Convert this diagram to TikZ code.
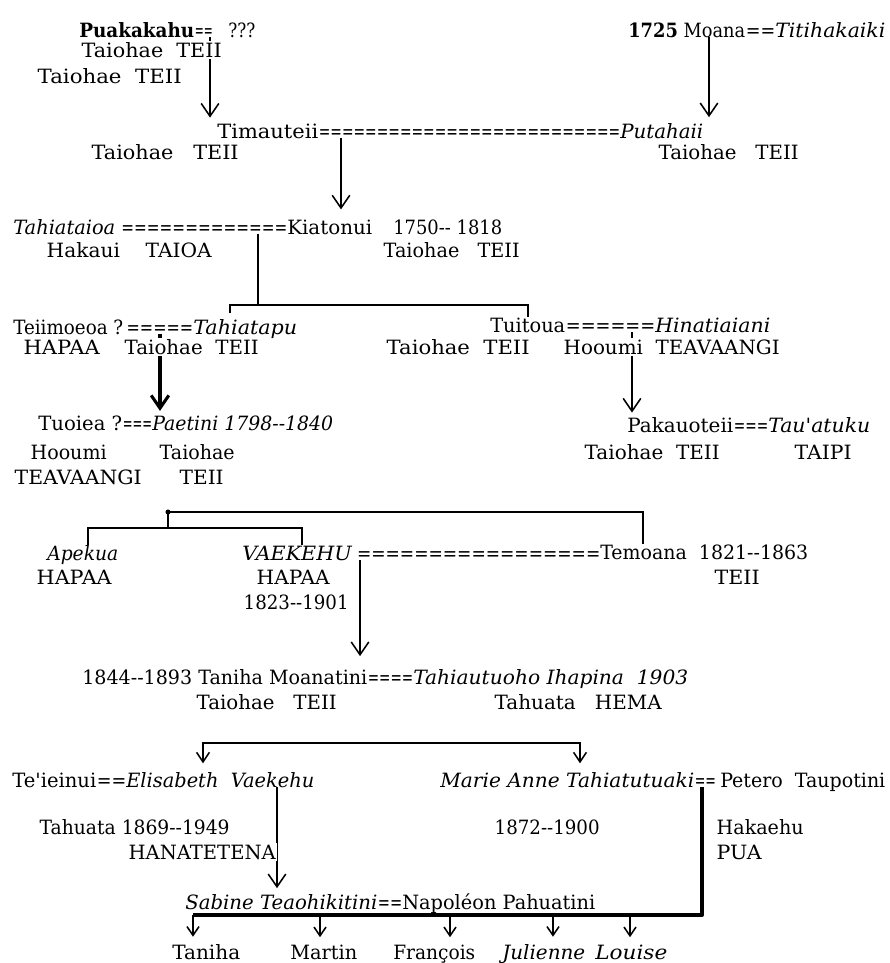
\documentclass[tikz,border=0pt]{standalone}
\usepackage{fontspec}
\setmainfont{DejaVu Serif}
\usepackage{graphicx}
\usepackage{tikz}
\usetikzlibrary{arrows.meta}
\usetikzlibrary{calc}
\usetikzlibrary{backgrounds}

\newlength\pxu
\setlength\pxu{0.025cm}
\newcommand\gfont{\fontsize{14pt}{16pt}\selectfont}
% text set to the width it has in the scan
\newcommand\fw[2]{\resizebox{#1\pxu}{\height}{#2}}
\newcommand\eqs[1]{\foreach\i in {1,...,#1}{=}}
% run of = signs between two names
\newcommand\wed[6]{\path let \p1=([xshift=#4]#1.base east), \p2=([xshift=-#5]#2.base west) in node[eqn] (#3) at (\p1) {\resizebox{\dimexpr\x2-\x1\relax}{\height}{\eqs{#6}}};}

\begin{document}
\begin{tikzpicture}[x=0.025cm, y=-0.025cm,
  nm/.style={anchor=base west, inner sep=0pt, font=\gfont},
  lab/.style={anchor=base west, inner sep=1pt, fill=white, font=\gfont},
  eqn/.style={anchor=base west, inner sep=0pt, font=\gfont},
  ln/.style={line width=1.1pt},
  arr/.style={ln, shorten >=3pt, -{Straight Barb[length=3.2mm,width=4.4mm]}},
  sarr/.style={ln, shorten >=5pt, -{Straight Barb[length=2.2mm,width=3mm]}},
  both/.style={ln, shorten <=6pt, shorten >=6pt, {Straight Barb[length=2.4mm,width=3.2mm]}-{Straight Barb[length=2.4mm,width=3.2mm]}},
  fat/.style={line width=2.8pt, line join=round}]
\useasboundingbox (0,0) rectangle (890,963);

\node[nm] (pua) at (79,37) {\fw{115}{\textbf{Puakakahu}}};
\node[nm] (qqq) at (228,37) {\fw{27}{???}};
\wed{pua}{qqq}{m0}{0pt}{11pt}{2}
\node[lab] (pua1) at (80,57) {\fw{140}{Taiohae~~TEII}};
\node[lab] (pua2) at (36,83) {\fw{144}{Taiohae~~TEII}};

\node[nm] (moana) at (628,37) {\fw{117}{\textbf{1725} Moana}};
\node[nm] (titi) at (775,37) {\fw{110}{\textit{Titihakaiki}}};
\wed{moana}{titi}{m2}{0pt}{0pt}{2}

\node[nm] (timau) at (217,138) {\fw{101}{Timauteii}};
\node[nm] (putah) at (620,138) {\fw{83}{\textit{Putahaii}}};
\wed{timau}{putah}{m1}{0pt}{0pt}{26}
\node[lab] (timau1) at (90,159) {\fw{147}{Taiohae~~~TEII}};
\node[lab] (putah1) at (657,159) {\fw{140}{Taiohae~~~TEII}};

\node[nm] (tahia) at (13,234) {\fw{102}{\textit{Tahiataioa}}};
\node[nm] (kiato) at (287,234) {\fw{85}{Kiatonui}};
\wed{tahia}{kiato}{m3}{4pt}{0pt}{13}
\node[nm] (kdate) at (393,234) {\fw{109}{1750-{}-~1818}};
\node[lab] (tahia1) at (45,257) {\fw{165}{Hakaui~~~~TAIOA}};
\node[lab] (kiato1) at (382,257) {\fw{136}{Taiohae~~~TEII}};

\node[nm] (teii) at (13,334) {\fw{110}{Teiimoeoa ?}};
\node[nm] (tapu) at (193,334) {\fw{104}{\textit{Tahiatapu}}};
\wed{teii}{tapu}{m4}{2pt}{0pt}{5}
\node[lab] (teii1) at (22,354) {\fw{76}{HAPAA}};
\node[lab] (tapu1) at (123,354) {\fw{134}{Taiohae~~TEII}};

\node[nm] (tuit) at (490,332) {\fw{75}{Tuitoua}};
\node[nm] (hina) at (655,332) {\fw{115}{\textit{Hinatiaiani}}};
\wed{tuit}{hina}{m5}{0pt}{0pt}{6}
\node[lab] (tuit1) at (385,354) {\fw{143}{Taiohae~~TEII}};
\node[lab] (hina1) at (562,354) {\fw{216}{Hooumi~~TEAVAANGI}};

\node[nm] (tuoi) at (38,430) {\fw{84}{Tuoiea ?}};
\node[nm] (paet) at (152,430) {\fw{181}{\textit{Paetini 1798-{}-1840}}};
\wed{tuoi}{paet}{m6}{0pt}{0pt}{3}
\node[lab] (tuoi1) at (29,459) {\fw{76}{Hooumi}};
\node[lab] (paet1) at (158,459) {\fw{75}{Taiohae}};
\node[lab] (tuoi2) at (13,484) {\fw{127}{TEAVAANGI}};
\node[lab] (paet2) at (178,484) {\fw{44}{TEII}};

\node[nm] (paka) at (627,432) {\fw{106}{Pakauoteii}};
\node[nm] (taua) at (768,432) {\fw{102}{\textit{Tau\textquotesingle atuku}}};
\wed{paka}{taua}{m7}{0pt}{0pt}{3}
\node[lab] (paka1) at (583,459) {\fw{135}{Taiohae~~TEII}};
\node[lab] (taua1) at (793,459) {\fw{57}{TAIPI}};

\node[nm] (apek) at (47,560) {\fw{71}{\textit{Apekua}}};
\node[lab] (apek1) at (35,584) {\fw{75}{HAPAA}};
\node[nm] (vaek) at (242,560) {\fw{110}{\textit{VAEKEHU}}};
\node[nm] (temo) at (600,559) {\fw{208}{Temoana~~1821-{}-1863}};
\wed{vaek}{temo}{m8}{3pt}{0pt}{17}
\node[lab] (vaek1) at (255,584) {\fw{73}{HAPAA}};
\node[lab] (vaek2) at (242,609) {\fw{105}{1823-{}-1901}};
\node[lab] (temo1) at (713,584) {\fw{45}{TEII}};

\node[nm] (tani) at (82,684) {\fw{285}{1844-{}-1893 Taniha Moanatini}};
\node[nm] (tahu) at (413,684) {\fw{275}{\textit{Tahiautuoho Ihapina~~1903}}};
\wed{tani}{tahu}{m9}{0pt}{0pt}{4}
\node[lab] (tani1) at (195,709) {\fw{140}{Taiohae~~~TEII}};
\node[lab] (tahu1) at (493,709) {\fw{167}{Tahuata~~~HEMA}};

\node[nm] (teie) at (12,787) {\fw{84}{Te\textquotesingle ieinui}};
\node[nm] (elis) at (126,787) {\fw{188}{\textit{Elisabeth~~Vaekehu}}};
\wed{teie}{elis}{m10}{0pt}{0pt}{2}
\node[lab] (teie1) at (38,834) {\fw{190}{Tahuata 1869-{}-1949}};
\node[lab] (elis1) at (127,859) {\fw{147}{HANATETENA}};

\node[nm] (mar) at (440,787) {\fw{254}{\textit{Marie Anne Tahiatutuaki}}};
\node[nm] (pet) at (720,787) {\fw{165}{Petero~~Taupotini}};
\wed{mar}{pet}{m11}{0pt}{3pt}{2}
\node[lab] (mar1) at (493,834) {\fw{105}{1872-{}-1900}};
\node[lab] (pet1) at (715,834) {\fw{87}{Hakaehu}};
\node[lab] (pet2) at (715,859) {\fw{45}{PUA}};

\node[nm] (sab) at (185,909) {\fw{192}{\textit{Sabine Teaohikitini}}};
\node[nm] (nap) at (402,909) {\fw{193}{Napoléon Pahuatini}};
\wed{sab}{nap}{m12}{0pt}{0pt}{2}

\node[nm] (c1) at (172,959) {\fw{68}{Taniha}};
\node[nm] (c2) at (290,959) {\fw{67}{Martin}};
\node[nm] (c3) at (393,959) {\fw{82}{François}};
\node[nm] (c4) at (502,959) {\fw{83}{\textit{Julienne}}};
\node[nm] (c5) at (595,959) {\fw{72}{\textit{Louise}}};

\coordinate (d0) at (210,0);
\coordinate (d1) at (341,0);
\coordinate (d2) at (709,0);
\coordinate (d3) at (258,0);
\coordinate (d4) at (160,0);
\coordinate (d5) at (632,0);
\coordinate (d8) at (360,0);
\coordinate (d10) at (277,0);
\coordinate (b3l) at (230,305);
\coordinate (b3r) at (528,305);
\coordinate (b6) at (168,512);
\coordinate (b6r) at (643,512);
\coordinate (b7l) at (88,528);
\coordinate (b7r) at (302,528);
\coordinate (b9l) at (203,743);
\coordinate (b9r) at (580,743);
\coordinate (b11) at (702,915);
\coordinate (b11l) at (193,915);

\begin{scope}[on background layer]
\draw[arr, shorten >=4pt] (m0.south -| d0) -- (timau.north -| d0);
\draw[arr, shorten >=4pt] (moana.base -| d2) -- (putah.north -| d2);
\draw[arr, shorten >=7pt] (m1.south -| d1) -- (kiato.north -| d1);
\draw[ln] (m3.south -| d3) -- (d3 |- b3l);
\draw[ln, shorten <=4pt] (tapu.north -| b3l) -- (b3l) -- (b3r) -- (tuit.north -| b3r);
\draw[arr, line width=2.2pt] (m4.south -| d4) -- (paet.north -| d4);
\draw[arr] (m5.south -| d5) -- (paka.north -| d5);
\fill (b6) circle (1.8pt);
\draw[ln] (b6) -- (b6r) -- (temo.north -| b6r);
\draw[ln] (b6) -- (b6 |- b7l);
\draw[ln] (apek.north -| b7l) -- (b7l) -- (b7r) -- (vaek.north -| b7r);
\draw[arr, shorten >=9pt] (m8.south -| d8) -- (tani.north -| d8);
\draw[both] (elis.north -| b9l) -- (b9l) -- (b9r) -- (mar.north -| b9r);
\draw[arr, shorten >=4pt] (elis.base -| d10) -- (sab.north -| d10);
\draw[fat] (m11.south -| b11) -- (b11) -- (b11l);
\foreach \c/\x in {c1/193,c2/320,c3/450,c4/553,c5/630}
  \draw[sarr] (b11l -| \x,0) -- (\c.north -| \x,0);
\end{scope}
\end{tikzpicture}
\end{document}
